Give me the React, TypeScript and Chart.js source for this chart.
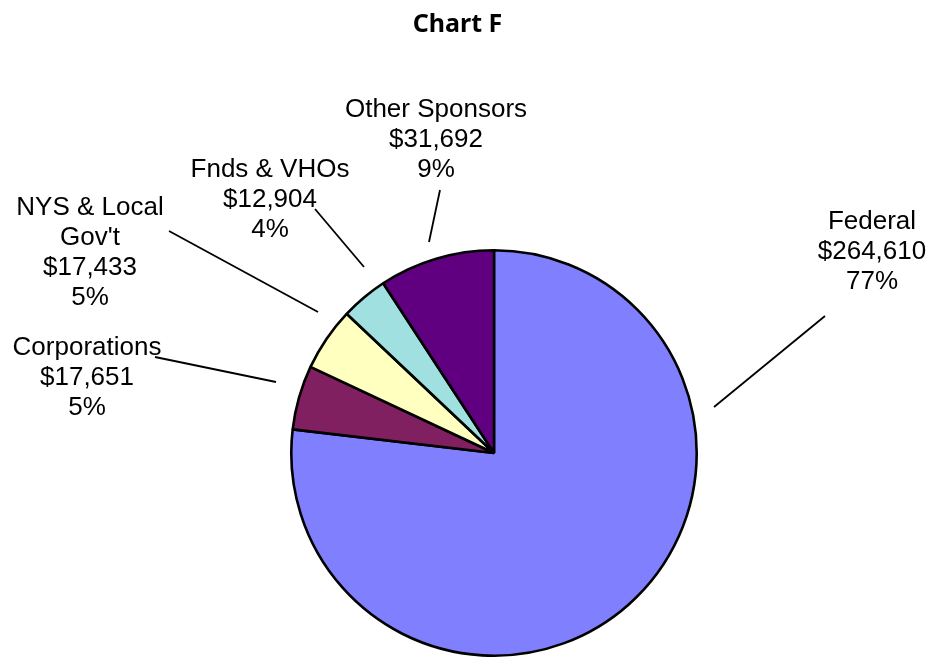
import React, { useEffect, useRef } from "react";
import { Chart, registerables } from "chart.js";

Chart.register(...registerables);

const title = "Chart F";
const categories = ["Federal", "Corporations", "NYS & Local Gov't", "Fnds & VHOs", "Other Sponsors"];
const labelNames = [["Federal"], ["Corporations"], ["NYS & Local", "Gov't"], ["Fnds & VHOs"], ["Other Sponsors"]];
const amounts = [264610, 17651, 17433, 12904, 31692];
const colors = ["#8080FF", "#802060", "#FFFFC0", "#A0E0E0", "#600080"];

// annotation layout: offsets from the pie centre (label centre x, first baseline y)
const labelOffsets = [
  [378, -224],
  [-407, -98],
  [-404, -238],
  [-224, -276],
  [-58, -336],
];
// leader lines: [x1, y1, x2, y2] offsets from the pie centre
const leaderOffsets = [
  [331, -137, 220, -46],
  [-339, -96, -218, -71],
  [-325, -222, -176, -141],
  [-179, -244, -130, -186],
  [-54, -263, -65, -211],
];

const annotationPlugin = {
  id: "annotations",
  afterDraw(chart: any) {
    const ctx = chart.ctx;
    const meta = chart.getDatasetMeta(0);
    const arc = meta.data[0];
    const cx = arc.x;
    const cy = arc.y;
    const total = amounts.reduce((a, b) => a + b, 0);
    ctx.save();
    // title
    ctx.fillStyle = "#000";
    ctx.textAlign = "center";
    ctx.textBaseline = "alphabetic";
    ctx.font = "bold 25px 'Noto Sans', 'Open Sans', sans-serif";
    ctx.fillText(title, chart.width / 2 - 8, 32);
    // leader lines
    ctx.strokeStyle = "#000";
    ctx.lineWidth = 1.8;
    leaderOffsets.forEach((l) => {
      ctx.beginPath();
      ctx.moveTo(cx + l[0], cy + l[1]);
      ctx.lineTo(cx + l[2], cy + l[3]);
      ctx.stroke();
    });
    // labels
    ctx.font = "26px 'Liberation Sans', Arial, sans-serif";
    amounts.forEach((v, i) => {
      const lines = [
        ...labelNames[i],
        "$" + v.toLocaleString("en-US"),
        Math.round((v / total) * 100) + "%",
      ];
      const [ox, oy] = labelOffsets[i];
      lines.forEach((t, j) => {
        ctx.fillText(t, cx + ox, cy + oy + j * 30);
      });
    });
    ctx.restore();
  },
};

export default function App() {
  const ref = useRef<HTMLCanvasElement>(null);
  useEffect(() => {
    if (!ref.current) return;
    const chart = new Chart(ref.current, {
      type: "pie",
      data: {
        labels: categories,
        datasets: [
          {
            data: amounts,
            backgroundColor: colors,
            borderColor: "#000",
            borderWidth: 2.6,
          },
        ],
      },
      options: {
        responsive: false,
        animation: false,
        layout: { padding: { left: 290, top: 249, right: 233, bottom: 1 } },
        plugins: {
          legend: { display: false },
          title: { display: false },
          tooltip: { enabled: false },
        },
      },
      plugins: [annotationPlugin],
    });
    return () => chart.destroy();
  }, []);
  return (
    <div style={{ position: "absolute", left: 0, top: 0, width: 931, height: 658, background: "#fff" }}>
      <canvas ref={ref} width={931} height={658} style={{ width: 931, height: 658 }} />
    </div>
  );
}
